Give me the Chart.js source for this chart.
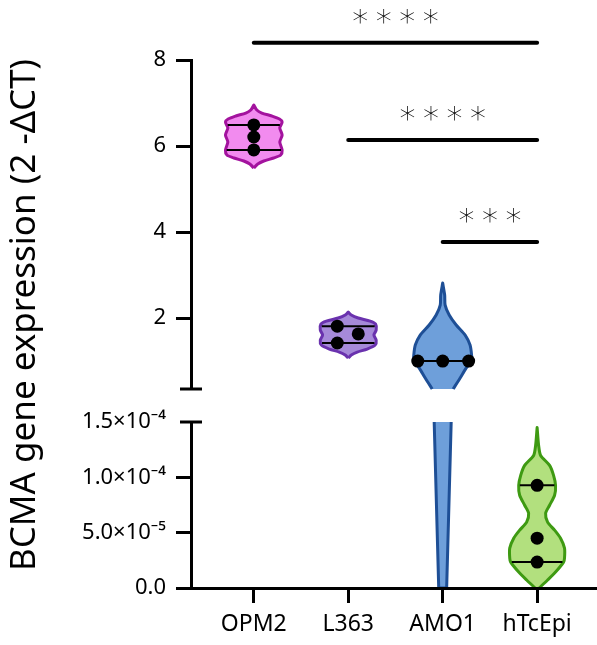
<!DOCTYPE html>
<html>
<head>
<meta charset="utf-8">
<script src="https://cdn.jsdelivr.net/npm/chart.js@4"></script>
<style>
html,body{margin:0;padding:0;background:#fff;}
#wrap{width:597px;height:645px;position:relative;}
</style>
</head>
<body>
<div id="wrap"><canvas id="c" width="597" height="645"></canvas></div>
<script>
// ---------- data ----------
const categories = ['OPM2', 'L363', 'AMO1', 'hTcEpi'];

// measured values (upper axis: 2^-ΔCT, lower axis: small values)
const opm2Values   = [6.49, 6.21, 5.91];
const l363Values   = [1.81, 1.63, 1.42];
const amo1Values   = [1.0, 1.0, 1.0];
const htcepiValues = [9.28e-5, 4.50e-5, 2.34e-5];

// quartile lines drawn across each violin
const opm2Quartiles   = [6.49, 5.91];
const l363Quartiles   = [1.81, 1.42];
const amo1Quartiles   = [1.0];
const htcepiQuartiles = [9.28e-5, 2.34e-5];

// violin density outlines: [value, half width in category units]
const opm2Density = [[6.953,0],[6.837,0.032],[6.767,0.085],[6.698,0.19],[6.628,0.272],[6.558,0.30],
  [6.419,0.275],[6.256,0.30],[6.093,0.275],[5.907,0.30],[5.791,0.285],[5.721,0.21],[5.651,0.106],[5.581,0.042],[5.488,0]];
const l363Density = [[2.140,0],[2.070,0.032],[2.000,0.106],[1.930,0.232],[1.860,0.29],[1.721,0.296],
  [1.605,0.272],[1.488,0.296],[1.372,0.285],[1.279,0.20],[1.209,0.095],[1.140,0.032],[1.070,0]];
const amo1Density = [[2.814,0],[2.535,0.021],[2.302,0.026],[2.070,0.069],[1.837,0.143],[1.605,0.238],
  [1.372,0.290],[1.140,0.306],[1.0,0.306],[0.837,0.248],[0.605,0.185],[0.35,0.111],[1.5e-4,0.090],[0,0.042]];
const htcepiDensity = [[1.450e-4,0],[1.288e-4,0.016],[1.198e-4,0.037],[1.108e-4,0.132],[1.018e-4,0.174],
  [9.28e-5,0.195],[8.38e-5,0.185],[7.48e-5,0.132],[6.76e-5,0.090],[5.95e-5,0.111],[5.23e-5,0.185],
  [4.50e-5,0.248],[3.60e-5,0.290],[2.70e-5,0.290],[2.34e-5,0.280],[1.44e-5,0.195],[7.2e-6,0.111],[0,0.021]];

// significance comparisons (category index from/to, bar level on upper axis)
const comparisons = [
  {from: 0, to: 3, level: 8.40, label: '****'},
  {from: 1, to: 3, level: 6.14, label: '****'},
  {from: 2, to: 3, level: 3.77, label: '***'}
];

// axis ticks
const topTicks = [2, 4, 6, 8];
const botTicks = [0, 5e-5, 1e-4, 1.5e-4];
const botTickLabels = ['0.0', '5.0×10⁻⁵', '1.0×10⁻⁴', '1.5×10⁻⁴'];
const TOP_MIN = 0.35, TOP_MAX = 8;
const BOT_MIN = 0, BOT_MAX = 1.5e-4;
const yTitle = 'BCMA gene expression (2 -ΔCT)';

// ---------- layout / style ----------
const X_MIN = -0.665, X_MAX = 3.634;
const FONT = '"Noto Sans", "DejaVu Sans", sans-serif';
const styles = [
  {fill: '#F28BEF', stroke: '#A3139E'},
  {fill: '#A68AD9', stroke: '#6A32AE'},
  {fill: '#6E9FDA', stroke: '#1E4F96'},
  {fill: '#B2E07E', stroke: '#3E9A12'}
];
const dotOffsets = [[0, 0, 0], [-0.116, 0.106, -0.116], [-0.264, 0, 0.275], [0, 0, 0]];

function halfWidthAt(profile, v) {
  for (let i = 0; i < profile.length - 1; i++) {
    const [v0, w0] = profile[i], [v1, w1] = profile[i + 1];
    if (v <= v0 && v >= v1) {
      const t = v0 === v1 ? 0 : (v0 - v) / (v0 - v1);
      return w0 + (w1 - w0) * t;
    }
  }
  return 0;
}

// openTop=false: path starts bottom-left, goes over the top and ends bottom-right (implicit close at bottom)
// openTop=true: path starts top-left, goes down, across the bottom, up the right (implicit close at top)
function violin(profile, center, style, yAxisID, openTop, tension) {
  let data;
  if (!openTop) {
    const left = profile.slice().reverse().map(([v, w]) => ({x: center - w, y: v}));
    const right = profile.map(([v, w]) => ({x: center + w, y: v}));
    data = left.concat(right);
  } else {
    const left = profile.map(([v, w]) => ({x: center - w, y: v}));
    const right = profile.slice().reverse().map(([v, w]) => ({x: center + w, y: v}));
    data = left.concat(right);
  }
  return {
    showLine: true, data, yAxisID,
    fill: 'shape', backgroundColor: style.fill, borderColor: style.stroke, borderWidth: 3,
    borderJoinStyle: 'round', pointRadius: 0, tension: tension, order: 3, clip: 2
  };
}

function quartileLines(levels, profile, center, yAxisID) {
  return levels.map(v => {
    const w = Math.max(0, halfWidthAt(profile, v) - 0.012);
    return {
      showLine: true, yAxisID, data: [{x: center - w, y: v}, {x: center + w, y: v}],
      borderColor: '#000', borderWidth: 2, pointRadius: 0, order: 2, clip: false
    };
  });
}

function dots(values, center, offsets, yAxisID) {
  return {
    yAxisID, data: values.map((v, i) => ({x: center + offsets[i], y: v})),
    pointRadius: 6.5, pointBackgroundColor: '#000', pointBorderWidth: 0,
    showLine: false, order: 1, clip: false
  };
}

const datasets = [];
// violins
datasets.push(violin(opm2Density, 0, styles[0], 'yTop', false, 0.25));
datasets.push(violin(l363Density, 1, styles[1], 'yTop', false, 0.25));
datasets.push(violin(amo1Density.filter(d => d[0] >= TOP_MIN), 2, styles[2], 'yTop', false, 0.25));
datasets.push(violin(amo1Density.filter(d => d[0] <= BOT_MAX), 2, styles[2], 'yBot', true, 0));
datasets.push(violin(htcepiDensity, 3, styles[3], 'yBot', false, 0.25));
// quartile lines
datasets.push(...quartileLines(opm2Quartiles, opm2Density, 0, 'yTop'));
datasets.push(...quartileLines(l363Quartiles, l363Density, 1, 'yTop'));
datasets.push(...quartileLines(amo1Quartiles, amo1Density, 2, 'yTop'));
datasets.push(...quartileLines(htcepiQuartiles, htcepiDensity, 3, 'yBot'));
// dots
datasets.push(dots(opm2Values, 0, dotOffsets[0], 'yTop'));
datasets.push(dots(l363Values, 1, dotOffsets[1], 'yTop'));
datasets.push(dots(amo1Values, 2, dotOffsets[2], 'yTop'));
datasets.push(dots(htcepiValues, 3, dotOffsets[3], 'yBot'));
// significance bars
comparisons.forEach(c => datasets.push({
  showLine: true, yAxisID: 'yTop', data: [{x: c.from, y: c.level}, {x: c.to, y: c.level}],
  borderColor: '#000', borderWidth: 4, borderCapStyle: 'round', pointRadius: 0, order: 1, clip: false
}));
// axis break caps
datasets.push({
  yAxisID: 'yTop', data: [{x: X_MIN, y: TOP_MIN}], pointStyle: 'line', pointRadius: 11,
  pointBorderWidth: 3, pointBorderColor: '#000', order: 0, clip: false
});
datasets.push({
  yAxisID: 'yBot', data: [{x: X_MIN, y: BOT_MAX}], pointStyle: 'line', pointRadius: 11,
  pointBorderWidth: 3, pointBorderColor: '#000', order: 0, clip: false
});

const starPlugin = {
  id: 'sigStars',
  afterDatasetsDraw(chart) {
    const {ctx, scales} = chart;
    ctx.save();
    ctx.font = '200 32px "DejaVu Sans"';
    ctx.fillStyle = '#000';
    ctx.textAlign = 'center';
    ctx.textBaseline = 'alphabetic';
    comparisons.forEach(c => {
      const cx = scales.x.getPixelForValue((c.from + c.to) / 2);
      const cy = scales.yTop.getPixelForValue(c.level) - 28;
      const chars = c.label.split('');
      chars.forEach((ch, i) => {
        const x = cx + (i - (chars.length - 1) / 2) * 23.5;
        ctx.fillText(ch, x, cy + 17);
      });
    });
    ctx.restore();
  }
};

const yAxisWidth = 144;
const tickFont = {family: FONT, size: 22};

new Chart(document.getElementById('c'), {
  type: 'scatter',
  data: {datasets},
  plugins: [starPlugin],
  options: {
    responsive: false,
    animation: false,
    events: [],
    layout: {autoPadding: false, padding: {left: 0, right: 0, top: -15, bottom: 0}},
    plugins: {
      legend: {display: false},
      tooltip: {enabled: false},
      title: {
        display: true, position: 'left', text: yTitle, color: '#000',
        font: {family: FONT, size: 35, weight: 'normal', lineHeight: 1},
        padding: {top: 8, bottom: 4}
      },
      subtitle: {
        display: true, position: 'top', text: '',
        font: {size: 10, lineHeight: 1}, padding: {top: 0, bottom: 65}
      }
    },
    scales: {
      x: {
        type: 'linear', position: 'bottom', min: X_MIN, max: X_MAX,
        afterBuildTicks: s => { s.ticks = categories.map((_, i) => ({value: i})); },
        afterFit: s => { s.height = 57; s.paddingLeft = 0; s.paddingRight = 0; },
        ticks: {callback: v => categories[v], font: {family: FONT, size: 23}, color: '#000', padding: 8, maxRotation: 0, autoSkip: false},
        grid: {drawOnChartArea: false, tickLength: 15, tickWidth: 3, tickColor: '#000'},
        border: {color: '#000', width: 3, z: 1}
      },
      yTop: {
        type: 'linear', position: 'left', stack: 'y', stackWeight: 329, weight: 3,
        min: TOP_MIN, max: TOP_MAX,
        afterBuildTicks: s => { s.ticks = topTicks.map(v => ({value: v})); },
        afterFit: s => { s.width = yAxisWidth; },
        ticks: {callback: v => String(v), font: tickFont, color: '#000', padding: 10},
        grid: {drawOnChartArea: false, tickLength: 15, tickWidth: 3, tickColor: '#000'},
        border: {color: '#000', width: 3}
      },
      yGap: {
        type: 'linear', position: 'left', stack: 'y', stackWeight: 33, weight: 2,
        min: 0, max: 1, display: false
      },
      yBot: {
        type: 'linear', position: 'left', stack: 'y', stackWeight: 166, weight: 1,
        min: BOT_MIN, max: BOT_MAX,
        afterBuildTicks: s => { s.ticks = botTicks.map(v => ({value: v})); },
        afterFit: s => { s.width = yAxisWidth; },
        ticks: {callback: (v, i) => botTickLabels[i], font: tickFont, color: '#000', padding: 10},
        grid: {drawOnChartArea: false, tickLength: 15, tickWidth: 3,
          tickColor: c => (c.tick && c.tick.value === BOT_MAX ? 'rgba(0,0,0,0)' : '#000')},
        border: {color: '#000', width: 3}
      }
    }
  }
});
</script>
</body>
</html>
